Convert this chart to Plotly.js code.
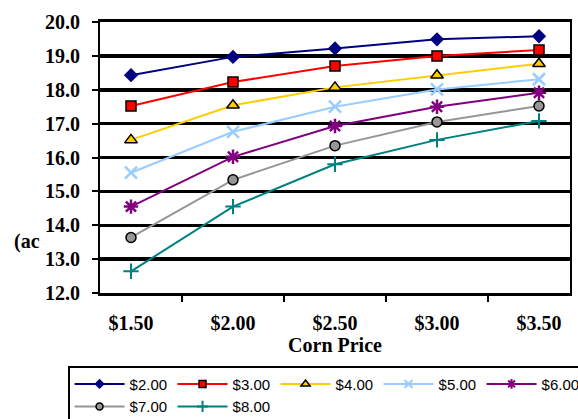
<!DOCTYPE html>
<html>
<head>
<meta charset="utf-8">
<script src="https://cdn.plot.ly/plotly-3.0.1.min.js"></script>
<style>html,body{margin:0;padding:0;background:#fff}#chart{width:578px;height:419px}</style>
</head>
<body>
<div id="chart"></div>
<script>
var cornPrices = ["$1.50", "$2.00", "$2.50", "$3.00", "$3.50"];
var seriesNames = ["$2.00", "$3.00", "$4.00", "$5.00", "$6.00", "$7.00", "$8.00"];
var s2 = [18.43, 18.97, 19.22, 19.49, 19.58];
var s3 = [17.52, 18.23, 18.70, 19.00, 19.17];
var s4 = [16.52, 17.54, 18.07, 18.43, 18.77];
var s5 = [15.55, 16.76, 17.50, 18.01, 18.31];
var s6 = [14.55, 16.02, 16.93, 17.50, 17.91];
var s7 = [13.64, 15.34, 16.35, 17.05, 17.52];
var s8 = [12.64, 14.55, 15.80, 16.52, 17.08];
var yTickVals = [12, 13, 14, 15, 16, 17, 18, 19, 20];

var seriesValues = [s2, s3, s4, s5, s6, s7, s8];
var styles = [
  {color: "#000080", symbol: "diamond", size: 11, lineColor: "#000080", lw: 0},
  {color: "#FF0000", symbol: "square", size: 10, lineColor: "#000000", lw: 1.5},
  {color: "#FFCC00", symbol: "triangle-up", size: 11, lineColor: "#000000", lw: 1.5},
  {color: "#99CCFF", symbol: "x-thin-open", size: 12, lineColor: "#99CCFF", lw: 2.5},
  {color: "#800080", symbol: "asterisk-open", size: 12, lineColor: "#800080", lw: 2.5},
  {color: "#969696", symbol: "circle", size: 10, lineColor: "#000000", lw: 1.5},
  {color: "#008080", symbol: "cross-thin-open", size: 11, lineColor: "#008080", lw: 2}
];

var traces = seriesValues.map(function (vals, i) {
  var st = styles[i];
  return {
    type: "scatter",
    mode: "lines+markers",
    name: seriesNames[i],
    showlegend: false,
    x: cornPrices,
    y: vals,
    line: {color: st.color, width: 2},
    marker: {
      symbol: st.symbol,
      size: st.size,
      color: st.color,
      line: {color: st.lineColor, width: st.lw}
    }
  };
});

// legend entries with smaller symbols (as in the reference legend);
// drawn on a hidden axis whose range lies outside the data, so only the legend shows
var legendTraces = seriesValues.map(function (vals, i) {
  var st = styles[i];
  return {
    type: "scatter",
    mode: "lines+markers",
    name: seriesNames[i],
    x: cornPrices,
    y: vals,
    yaxis: "y2",
    hoverinfo: "skip",
    line: {color: st.color, width: 2},
    marker: {
      symbol: st.symbol,
      size: Math.round(st.size * 0.7),
      color: st.color,
      line: {color: st.lineColor, width: Math.min(st.lw, 2)}
    }
  };
});

var layout = {
  width: 578,
  height: 419,
  margin: {l: 100, r: 8, t: 22, b: 126, autoexpand: false},
  paper_bgcolor: "#ffffff",
  plot_bgcolor: "#ffffff",
  showlegend: true,
  font: {family: "Liberation Serif, Times New Roman, serif", color: "#000"},
  xaxis: {
    type: "category",
    categoryarray: cornPrices,
    tickson: "boundaries",
    ticks: "outside",
    ticklen: 6,
    tickwidth: 2,
    tickcolor: "#000",
    showline: true,
    linecolor: "#000",
    linewidth: 3,
    mirror: true,
    showgrid: false,
    ticklabelstandoff: 10,
    tickfont: {family: "Liberation Serif, Times New Roman, serif", size: 20, weight: "bold", color: "#000"},
    title: {text: "Corn Price", standoff: 2, font: {family: "Liberation Serif, Times New Roman, serif", size: 20, weight: "bold", color: "#000"}}
  },
  yaxis: {
    range: [12, 20],
    tickvals: yTickVals,
    tickformat: ".1f",
    ticks: "outside",
    ticklen: 6,
    tickwidth: 2,
    tickcolor: "#000",
    showline: true,
    linecolor: "#000",
    linewidth: 2,
    mirror: true,
    showgrid: true,
    gridcolor: "#000",
    gridwidth: 3.5,
    zeroline: false,
    ticklabelstandoff: 8,
    tickfont: {family: "Liberation Serif, Times New Roman, serif", size: 20, weight: "bold", color: "#000"}
  },
  yaxis2: {
    overlaying: "y",
    range: [100, 101],
    visible: false,
    showgrid: false,
    zeroline: false
  },
  legend: {
    orientation: "h",
    x: -0.068,
    xanchor: "left",
    y: -0.27,
    yanchor: "top",
    bordercolor: "#000",
    borderwidth: 1.5,
    itemwidth: 50,
    entrywidth: 38,
    entrywidthmode: "pixels",
    tracegroupgap: 0,
    font: {family: "Liberation Sans, Arial, sans-serif", size: 15, color: "#000"}
  },
  annotations: [{
    text: "(ac",
    xref: "paper", yref: "paper",
    x: -0.188, y: 0.19,
    xanchor: "left", yanchor: "middle",
    showarrow: false,
    font: {family: "Liberation Serif, Times New Roman, serif", size: 20, weight: "bold", color: "#000"}
  }]
};

Plotly.newPlot("chart", traces.concat(legendTraces), layout, {displayModeBar: false, staticPlot: true});
</script>
</body>
</html>
